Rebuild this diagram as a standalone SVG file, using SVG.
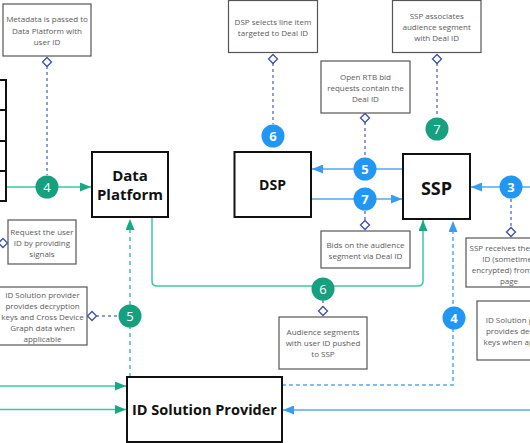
<svg xmlns="http://www.w3.org/2000/svg" width="530" height="443" viewBox="0 0 530 443">
<style>
.node{fill:#fff;stroke:#111;stroke-width:2}
.ntext{font-family:"Open Sans","Noto Sans",sans-serif;font-weight:700;fill:#111;text-anchor:middle}
.note{fill:#fff;stroke:#555;stroke-width:1.2}
.ntxt{font-family:"Open Sans","Noto Sans",sans-serif;font-size:8px;fill:#5a5a5a;text-anchor:middle}
.g{stroke:#3cc7a4;stroke-width:1.5;fill:none}
.gd{stroke:#3cc7a4;stroke-width:1.5;fill:none;stroke-dasharray:4 4}
.b{stroke:#55a8f2;stroke-width:1.5;fill:none}
.bd{stroke:#55a8f2;stroke-width:1.5;fill:none;stroke-dasharray:4 3}
.dot{stroke:#6d7bc4;stroke-width:1.5;fill:none;stroke-dasharray:3 3}
.dia{fill:#fff;stroke:#3d4fa8;stroke-width:1.3}
.cg{fill:#17a07f}
.cb{fill:#2196f3}
.ctxt{font-family:"Open Sans","Noto Sans",sans-serif;font-size:13px;fill:#fff;text-anchor:middle}
</style>
<defs>
<marker id="ag" markerUnits="userSpaceOnUse" markerWidth="11" markerHeight="9" refX="11" refY="4.5" orient="auto"><path d="M0,0 L11,4.5 L0,9 z" fill="#17a984"/></marker>
<marker id="ab" markerUnits="userSpaceOnUse" markerWidth="11" markerHeight="9" refX="11" refY="4.5" orient="auto"><path d="M0,0 L11,4.5 L0,9 z" fill="#3a9cf0"/></marker>
</defs>
<g id="connectors">
<path class="g" d="M6,187 L91,187" marker-end="url(#ag)"/>
<path class="gd" d="M130,377 L130,219" marker-end="url(#ag)"/>
<path class="g" d="M152,217 L152,281 Q152,286 157,286 L418,286 Q423,286 423,281 L423,220" marker-end="url(#ag)"/>
<path class="g" d="M0,386 L126,386" marker-end="url(#ag)"/>
<path class="g" d="M0,409.5 L126,409.5" marker-end="url(#ag)"/>
<path class="b" d="M403,169 L312,169" marker-end="url(#ab)"/>
<path class="b" d="M311,199 L402,199" marker-end="url(#ab)"/>
<path class="b" d="M530,187 L471,187" marker-end="url(#ab)"/>
<path class="b" d="M530,410 L283,410" marker-end="url(#ab)"/>
<path class="bd" d="M282,385 L453,385 L453,221" marker-end="url(#ab)"/>
<path class="dot" d="M47,66 L47,175"/>
<path class="dot" d="M273,63 L273,124"/>
<path class="dot" d="M437,63 L437,117"/>
<path class="dot" d="M365,122 L365,157"/>
<path class="dot" d="M365,211 L365,221"/>
<path class="dot" d="M511,199 L511,228"/>
<path class="dot" d="M96,316 L118,316"/>
<path class="dot" d="M323,300 L323,307"/>
<polygon class="dia" points="47,57.5 51.5,62 47,66.5 42.5,62"/>
<polygon class="dia" points="273,54.5 277.5,59 273,63.5 268.5,59"/>
<polygon class="dia" points="437,54.5 441.5,59 437,63.5 432.5,59"/>
<polygon class="dia" points="365,113.5 369.5,118 365,122.5 360.5,118"/>
<polygon class="dia" points="365,220.5 369.5,225 365,229.5 360.5,225"/>
<polygon class="dia" points="511,227.5 515.5,232 511,236.5 506.5,232"/>
<polygon class="dia" points="92,311.5 96.5,316 92,320.5 87.5,316"/>
<polygon class="dia" points="323,306.5 327.5,311 323,315.5 318.5,311"/>
<polygon class="dia" points="3,238.5 7.5,243 3,247.5 -1.5,243"/>
<circle class="cg" cx="47" cy="187" r="11.5"/><text class="ctxt" x="47" y="191.7">4</text>
<circle class="cg" cx="130" cy="316" r="11.5"/><text class="ctxt" x="130" y="320.7">5</text>
<circle class="cg" cx="323" cy="289" r="11.5"/><text class="ctxt" x="323" y="293.7">6</text>
<circle class="cg" cx="437" cy="129" r="11.5"/><text class="ctxt" x="437" y="133.7">7</text>
<circle class="cb" cx="273" cy="136" r="11.5"/><text class="ctxt" x="273" y="140.7" font-weight="700">6</text>
<circle class="cb" cx="365" cy="169" r="11.5"/><text class="ctxt" x="365" y="173.7" font-weight="700">5</text>
<circle class="cb" cx="365" cy="199" r="11.5"/><text class="ctxt" x="365" y="203.7" font-weight="700">7</text>
<circle class="cb" cx="511" cy="187" r="11.5"/><text class="ctxt" x="511" y="191.7" font-weight="700">3</text>
<circle class="cb" cx="454" cy="318" r="11.5"/><text class="ctxt" x="454" y="322.7" font-weight="700">4</text>
</g>
<g id="left-stack">
<rect class="node" x="-10" y="80" width="16" height="30"/>
<rect class="node" x="-10" y="110" width="16" height="31"/>
<rect class="node" x="-10" y="141" width="16" height="30"/>
<rect class="node" x="-10" y="171" width="16" height="30"/>
</g>
<g id="data-platform">
<rect class="node" x="92" y="152" width="76" height="65"/>
<text class="ntext" x="130" y="180.5" font-size="15">Data</text>
<text class="ntext" x="130" y="199.5" font-size="15">Platform</text>
</g>
<g id="dsp">
<rect class="node" x="234.5" y="152" width="76.5" height="65"/>
<text class="ntext" x="272.5" y="190" font-size="14">DSP</text>
</g>
<g id="ssp">
<rect class="node" x="403" y="154" width="67" height="65"/>
<text class="ntext" x="436.5" y="194.5" font-size="18">SSP</text>
</g>
<g id="id-solution-provider">
<rect class="node" x="127" y="377" width="155" height="65"/>
<text class="ntext" x="204.5" y="415" font-size="14.5">ID Solution Provider</text>
</g>
<g id="note-metadata">
<rect class="note" x="3" y="4" width="88" height="52"/>
<text class="ntxt" x="47" y="22">Metadata is passed to</text>
<text class="ntxt" x="47" y="33.5">Data Platform with</text>
<text class="ntxt" x="47" y="45">user ID</text>
</g>
<g id="note-dsp-selects">
<rect class="note" x="228.5" y="0.5" width="89" height="52"/>
<text class="ntxt" x="273" y="24.5">DSP selects line item</text>
<text class="ntxt" x="273" y="35.5">targeted to Deal ID</text>
</g>
<g id="note-openrtb">
<rect class="note" x="321" y="61" width="89" height="52"/>
<text class="ntxt" x="365.5" y="79.5">Open RTB bid</text>
<text class="ntxt" x="365.5" y="90.5">requests contain the</text>
<text class="ntxt" x="365.5" y="101.5">Deal ID</text>
</g>
<g id="note-ssp-associates">
<rect class="note" x="392.5" y="0.5" width="88.5" height="52"/>
<text class="ntxt" x="436.7" y="18.5">SSP associates</text>
<text class="ntxt" x="436.7" y="29.5">audience segment</text>
<text class="ntxt" x="436.7" y="40.5">with Deal ID</text>
</g>
<g id="note-request">
<rect class="note" x="8" y="220" width="68" height="44"/>
<text class="ntxt" x="42" y="234.5">Request the user</text>
<text class="ntxt" x="42" y="245.5">ID by providing</text>
<text class="ntxt" x="42" y="256.5">signals</text>
</g>
<g id="note-bids">
<rect class="note" x="321" y="231" width="89" height="37"/>
<text class="ntxt" x="365.5" y="247.5">Bids on the audience</text>
<text class="ntxt" x="365.5" y="258.5">segment via Deal ID</text>
</g>
<g id="note-ssp-receives">
<rect class="note" x="466" y="238" width="86" height="49"/>
<text class="ntxt" x="509" y="250.5">SSP receives the user</text>
<text class="ntxt" x="509" y="261.5">ID (sometimes</text>
<text class="ntxt" x="509" y="272.5">encrypted) from the</text>
<text class="ntxt" x="509" y="283.5">page</text>
</g>
<g id="note-idsp-right">
<rect class="note" x="477" y="301" width="92" height="59"/>
<text class="ntxt" x="523" y="323">ID Solution provider</text>
<text class="ntxt" x="523" y="334">provides decryption</text>
<text class="ntxt" x="523" y="345">keys when applicable</text>
</g>
<g id="note-idsp-left">
<rect class="note" x="-1" y="287" width="88" height="58"/>
<text class="ntxt" x="42.5" y="298">ID Solution provider</text>
<text class="ntxt" x="42.5" y="309">provides decryption</text>
<text class="ntxt" x="42.5" y="320">keys and Cross Device</text>
<text class="ntxt" x="42.5" y="331">Graph data when</text>
<text class="ntxt" x="42.5" y="342">applicable</text>
</g>
<g id="note-audience">
<rect class="note" x="279" y="317" width="88" height="52"/>
<text class="ntxt" x="323" y="335">Audience segments</text>
<text class="ntxt" x="323" y="346">with user ID pushed</text>
<text class="ntxt" x="323" y="357">to SSP</text>
</g>
</svg>
